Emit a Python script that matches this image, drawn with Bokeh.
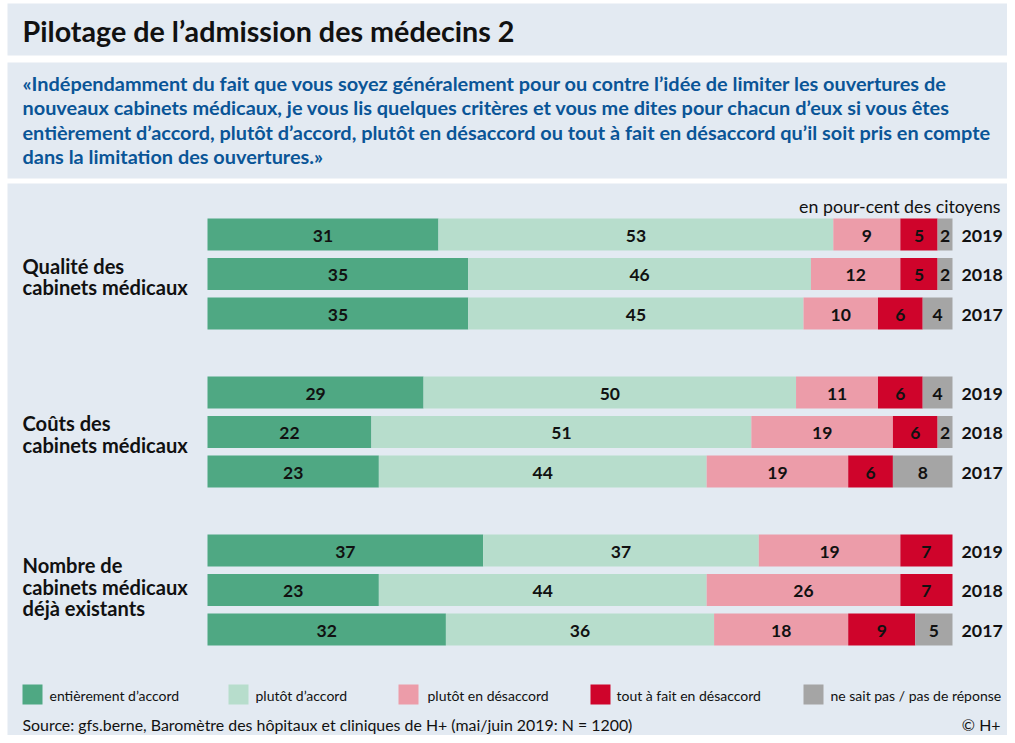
from bokeh.plotting import figure
from bokeh.models import Range1d
from bokeh.core.properties import value
from bokeh.embed import file_html
from bokeh.resources import INLINE

# ---------------- data ----------------
groups = ["Qualité des\ncabinets médicaux",
          "Coûts des\ncabinets médicaux",
          "Nombre de\ncabinets médicaux\ndéjà existants"]
years = ["2019", "2018", "2017"]
categories = ["entièrement d’accord", "plutôt d’accord", "plutôt en désaccord",
              "tout à fait en désaccord", "ne sait pas / pas de réponse"]
colors = ["#4fa883", "#b7ddcc", "#ec9ca9", "#cf042b", "#a5a5a5"]

entierement = [31, 35, 35, 29, 22, 23, 37, 23, 32]
plutot_accord = [53, 46, 45, 50, 51, 44, 37, 44, 36]
plutot_desaccord = [9, 12, 10, 11, 19, 19, 19, 26, 18]
tout_desaccord = [5, 5, 6, 6, 6, 6, 7, 7, 9]
ne_sait_pas = [2, 2, 4, 4, 2, 8, 0, 0, 5]
series = [entierement, plutot_accord, plutot_desaccord, tout_desaccord, ne_sait_pas]

title = "Pilotage de l’admission des médecins 2"
question = ["«Indépendamment du fait que vous soyez généralement pour ou contre l’idée de limiter les ouvertures de",
            "nouveaux cabinets médicaux, je vous lis quelques critères et vous me dites pour chacun d’eux si vous êtes",
            "entièrement d’accord, plutôt d’accord, plutôt en désaccord ou tout à fait en désaccord qu’il soit pris en compte",
            "dans la limitation des ouvertures.»"]
unit_note = "en pour-cent des citoyens"
source = "Source: gfs.berne, Baromètre des hôpitaux et cliniques de H+ (mai/juin 2019: N = 1200)"
copyright_note = "© H+"

# ---------------- layout helpers ----------------
X0 = 207.0      # px of 0 %
PPP = 7.45      # px per percent
def px(x):
    return (x - X0) / PPP

FONT = value("Lato")
W, H = 1007, 735

p = figure(width=W, height=H, output_backend="svg", toolbar_location=None,
           x_range=Range1d(px(0), px(W)), y_range=Range1d(H, 0),
           min_border=0, outline_line_color=None, background_fill_color="white",
           border_fill_color="white")
p.axis.visible = False
p.grid.visible = False

panel = "#e3eaf2"
p.quad(left=[px(7)] * 3, right=[px(1014)] * 3,
       top=[3, 62, 183], bottom=[55, 178, 745], fill_color=panel, line_color=None)

# title
p.text(x=[px(22)], y=[30], text=[title], text_font=FONT, text_font_style="bold",
       text_font_size="28.7px", text_color="#111111", text_baseline="middle")
# question
p.text(x=[px(22)] * 4, y=[82, 106.5, 131, 155.5], text=question, text_font=FONT,
       text_font_style="bold", text_font_size="19.9px", text_color="#0a5597",
       text_baseline="middle")

# bars
ycen = []
for g in range(3):
    for r in range(3):
        ycen.append(234 + g * 158 + r * 39.5)

lefts = [0.0] * 9
lab_x, lab_y, lab_t = [], [], []
for k, s in enumerate(series):
    rights = [lefts[i] + s[i] for i in range(9)]
    p.hbar(y=ycen, left=list(lefts), right=rights, height=32,
           fill_color=colors[k], line_color=None)
    for i in range(9):
        if s[i] > 0:
            lab_x.append((lefts[i] + rights[i]) / 2)
            lab_y.append(ycen[i] + 1)
            lab_t.append(str(s[i]))
    lefts = rights

p.text(x=lab_x, y=lab_y, text=lab_t, text_font=FONT, text_font_style="bold",
       text_font_size="17.5px", text_color="#111111", text_align="center",
       text_baseline="middle")

# year labels
p.text(x=[px(961)] * 9, y=[y + 1 for y in ycen], text=years * 3, text_font=FONT,
       text_font_style="bold", text_font_size="17.8px", text_color="#111111",
       text_baseline="middle")

# unit note
p.text(x=[px(1000)], y=[205], text=[unit_note], text_font=FONT,
       text_font_size="17.8px", text_color="#111111", text_align="right",
       text_baseline="middle")

# group labels
group_offsets = [2.5, 2, -3.5]
for g, lab in enumerate(groups):
    lines = lab.split("\n")
    c = ycen[g * 3 + 1] + group_offsets[g]
    n = len(lines)
    ys = [c + (j - (n - 1) / 2) * 21.5 for j in range(n)]
    p.text(x=[px(22)] * n, y=ys, text=lines, text_font=FONT, text_font_style="bold",
           text_font_size="20.1px", text_color="#111111", text_baseline="middle")

# legend
sq_x = [22, 228, 398, 590, 803]
tx_x = [49, 255, 427, 616, 830]
p.quad(left=[px(x) for x in sq_x], right=[px(x + 20) for x in sq_x],
       top=[684] * 5, bottom=[704] * 5, fill_color=colors, line_color=None)
p.text(x=[px(x) for x in tx_x], y=[695] * 5, text=categories, text_font=FONT,
       text_font_size="14px", text_color="#111111", text_baseline="middle")

# source & copyright
p.text(x=[px(22)], y=[724], text=[source], text_font=FONT, text_font_size="15.9px",
       text_color="#111111", text_baseline="middle")
p.text(x=[px(1000)], y=[724], text=[copyright_note], text_font=FONT,
       text_font_size="15.9px", text_color="#111111", text_align="right",
       text_baseline="middle")

open("out.html", "w").write(file_html(p, INLINE))
